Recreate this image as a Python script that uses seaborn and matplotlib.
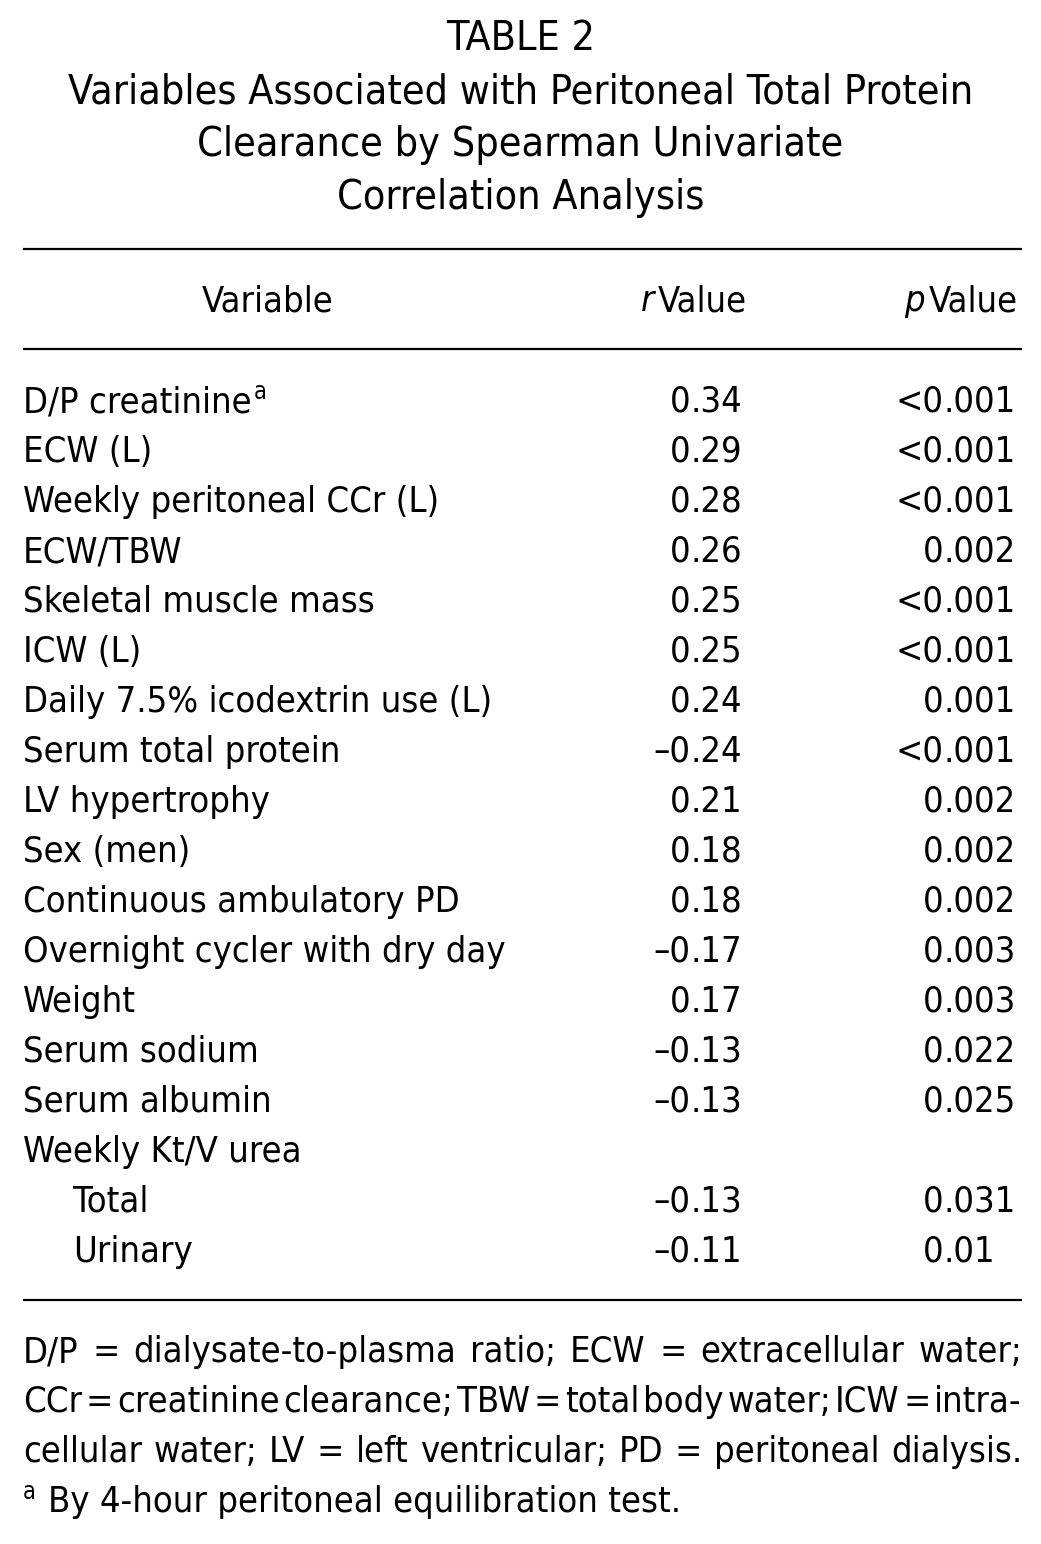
import matplotlib
matplotlib.use("Agg")
import matplotlib.pyplot as plt
from matplotlib import font_manager
from matplotlib.font_manager import FontProperties
import seaborn as sns

# table content
title_lines = [
    "TABLE 2",
    "Variables Associated with Peritoneal Total Protein",
    "Clearance by Spearman Univariate",
    "Correlation Analysis",
]
variables = [
    "D/P creatinine", "ECW (L)", "Weekly peritoneal CCr (L)", "ECW/TBW",
    "Skeletal muscle mass", "ICW (L)", "Daily 7.5% icodextrin use (L)",
    "Serum total protein", "LV hypertrophy", "Sex (men)",
    "Continuous ambulatory PD", "Overnight cycler with dry day", "Weight",
    "Serum sodium", "Serum albumin", "Weekly Kt/V urea", "Total", "Urinary",
]
indented = [False] * 16 + [True, True]
superscripts = {0: "a"}
r_values = [0.34, 0.29, 0.28, 0.26, 0.25, 0.25, 0.24, -0.24, 0.21, 0.18,
            0.18, -0.17, 0.17, -0.13, -0.13, None, -0.13, -0.11]
p_values = ["<0.001", "<0.001", "<0.001", "0.002", "<0.001", "<0.001",
            "0.001", "<0.001", "0.002", "0.002", "0.002", "0.003", "0.003",
            "0.022", "0.025", "", "0.031", "0.01"]
footnote_lines = [
    "D/P = dialysate-to-plasma ratio; ECW = extracellular water;",
    "CCr = creatinine clearance; TBW = total body water; ICW = intra-",
    "cellular water; LV = left ventricular; PD = peritoneal dialysis.",
]
footnote_last = "By 4-hour peritoneal equilibration test."

sns.set_theme(style="white")
plt.rcParams["font.family"] = ["DejaVu Sans"]
plt.rcParams["text.color"] = "black"


# look for a condensed face, the original uses a narrow sans
def find_font(italic):
    best = None
    for f in font_manager.fontManager.ttflist:
        path = f.fname.lower()
        narrow = ("condensed" in path or "narrow" in path
                  or "condensed" in f.name.lower() or "narrow" in f.name.lower()
                  or str(f.stretch) in ("condensed", "semi-condensed"))
        if not narrow or "bold" in path or f.weight not in (400, "normal", "regular"):
            continue
        is_it = f.style in ("italic", "oblique")
        if is_it != italic:
            continue
        score = 0 if "dejavu" in path else (1 if "liberation" in path else 2)
        if best is None or score < best[0]:
            best = (score, f.fname)
    return best[1] if best else None


reg_file = find_font(False)
it_file = find_font(True)


def fprop(size, italic=False):
    fname = it_file if italic else reg_file
    if fname:
        return FontProperties(fname=fname, size=size)
    if italic and reg_file:
        return FontProperties(fname=reg_file, size=size)
    return FontProperties(family=["Roboto", "DejaVu Sans"], size=size,
                          style="italic" if italic else "normal")


W, H = 1041, 1544
fig = plt.figure(figsize=(W / 100, H / 100), dpi=100)
ax = fig.add_axes([0, 0, 1, 1])
ax.set_xlim(0, W)
ax.set_ylim(H, 0)
ax.axis("off")
renderer = fig.canvas.get_renderer()

TITLE_FS = 29.5
BODY_FS = 26
SUP_FS = 17
LEFT, RIGHT = 23, 1022


def put(x, y, s, size=BODY_FS, italic=False, **kw):
    kw.setdefault("va", "baseline")
    return ax.text(x, y, s, fontproperties=fprop(size, italic), color="black", **kw)


def text_width(s, size=BODY_FS, italic=False):
    t = put(0, 0, s, size, italic)
    w = t.get_window_extent(renderer).width
    t.remove()
    return w


def fmt_r(v):
    return "" if v is None else ("\u2013" if v < 0 else "") + f"{abs(v):.2f}"


# title
for i, line in enumerate(title_lines):
    put(W / 2, 50 + i * 53, line, TITLE_FS, ha="center")

# rules
for y in [249, 349, 1300]:
    ax.plot([LEFT, RIGHT], [y, y], color="black", lw=1.6, solid_capstyle="butt")

# header
hy = 311
put(268, hy, "Variable", ha="center")
for right_x, letter in [(747, "r"), (1018, "p")]:
    put(right_x, hy, "Value", ha="right")
    wv = text_width("Value")
    put(right_x - wv - 4, hy, letter, italic=True, ha="right")

# rows, decimal-aligned numbers
dec_r = 742 - text_width(".34")
dec_p = 1016 - text_width(".001")
for i, name in enumerate(variables):
    y = 412 + i * 50
    x = LEFT + (50 if indented[i] else 0)
    put(x, y, name, ha="left")
    if i in superscripts:
        put(x + text_width(name) + 2, y - 13, superscripts[i], SUP_FS, ha="left")
    for val, dx in [(fmt_r(r_values[i]), dec_r), (p_values[i], dec_p)]:
        if not val:
            continue
        a, b = val.split(".")
        put(dx, y, a, ha="right")
        put(dx, y, "." + b, ha="left")

# footnote, justified lines
for i, line in enumerate(footnote_lines):
    y = 1362 + i * 50
    words = line.split(" ")
    size = BODY_FS
    while True:
        widths = [text_width(w_, size) for w_ in words]
        gap = (RIGHT - LEFT - sum(widths)) / (len(words) - 1)
        if gap >= 3 or size < 18:
            break
        size -= 0.5
    x = LEFT
    for w_, wd in zip(words, widths):
        put(x, y, w_, size, ha="left")
        x += wd + gap
y = 1362 + 3 * 50
put(LEFT, y - 13, "a", SUP_FS, ha="left")
put(48, y, footnote_last, ha="left")

fig.savefig("out.png", dpi=100, facecolor="white")
